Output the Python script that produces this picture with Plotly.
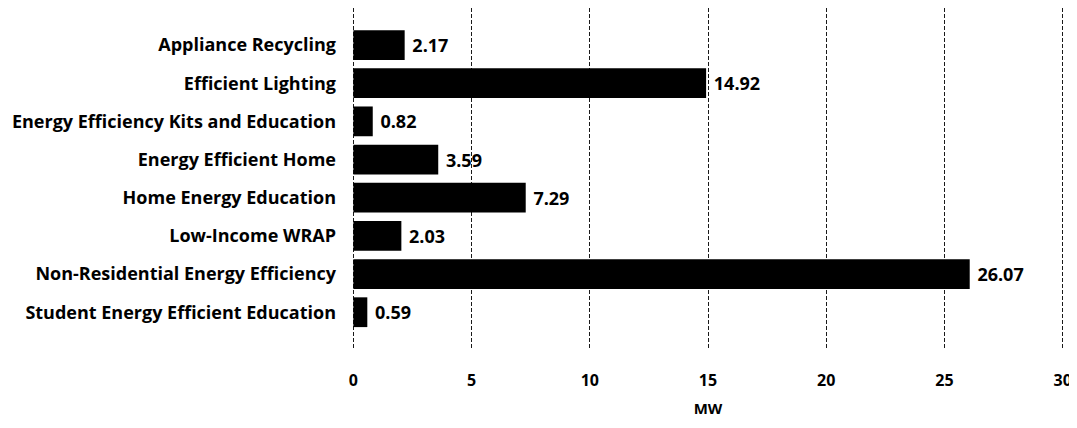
import plotly.graph_objects as go

categories = [
    "Appliance Recycling",
    "Efficient Lighting",
    "Energy Efficiency Kits and Education",
    "Energy Efficient Home",
    "Home Energy Education",
    "Low-Income WRAP",
    "Non-Residential Energy Efficiency",
    "Student Energy Efficient Education",
]
values = [2.17, 14.92, 0.82, 3.59, 7.29, 2.03, 26.07, 0.59]
x_ticks = [0, 5, 10, 15, 20, 25, 30]

FONT = "Open Sans"

fig = go.Figure(
    go.Bar(
        x=values,
        y=categories,
        orientation="h",
        marker=dict(color="#000000", line=dict(width=0)),
        width=0.78,
        text=[f"{v:.2f}" for v in values],
        texttemplate=" %{text}",
        textposition="outside",
        textfont=dict(family=FONT, size=18, color="#000000", weight="bold"),
        cliponaxis=False,
    )
)

fig.update_layout(
    width=1069,
    height=410,
    margin=dict(l=343, r=12, t=0, b=68),
    paper_bgcolor="white",
    plot_bgcolor="white",
    showlegend=False,
    bargap=0.2,
    xaxis=dict(
        range=[-0.1, 30.1],
        tickvals=x_ticks,
        ticktext=[str(t) for t in x_ticks],
        showgrid=True,
        gridcolor="#1a1a1a",
        gridwidth=1,
        griddash="4px,2px",
        zeroline=False,
        showline=False,
        ticks="",
        automargin=False,
        ticklabelstandoff=19,
        tickfont=dict(family=FONT, size=16, color="#000000", weight="bold"),
        title=dict(text="MW", font=dict(family=FONT, size=15, color="#000000", weight="bold"), standoff=15),
    ),
    yaxis=dict(
        categoryorder="array",
        categoryarray=categories,
        range=[7.99, -0.97],
        showgrid=False,
        zeroline=False,
        showline=False,
        ticks="",
        automargin=False,
        ticklabelstandoff=14,
        tickfont=dict(family=FONT, size=18, color="#000000", weight="bold"),
    ),
)

fig.write_html("out.html")
